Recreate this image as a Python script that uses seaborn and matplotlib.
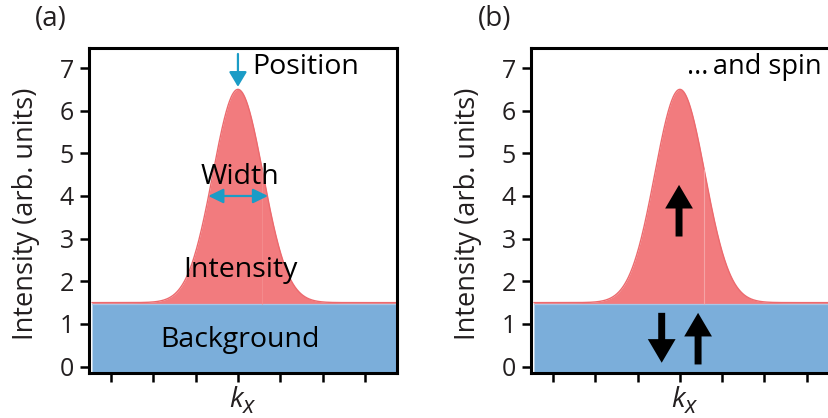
import numpy as np
import pandas as pd
import seaborn as sns
import matplotlib
matplotlib.use("Agg")
import matplotlib.pyplot as plt
import matplotlib.transforms as mtransforms
from matplotlib.patches import FancyArrowPatch

sns.set_theme(style="white")
plt.rcParams["font.family"] = ["Open Sans", "DejaVu Sans"]

# ---- data ----
panel_labels = ["(a)", "(b)"]
peak_position = 0.0
peak_amplitude = 5.0       # peak height above background
peak_sigma = 0.59
background_level = 1.5
band_top = 1.46
y_ticks = [0, 1, 2, 3, 4, 5, 6, 7]
x_ticks = [-3, -2, -1, 0, 1, 2, 3]
seam_x = 0.57
ylabel = "Intensity (arb. units)"

RED = "#F27B7E"
RED_EDGE = "#EC6A6E"
BLUE = "#7BAEDA"
BLUE_EDGE = "#A9C7E8"
CYAN = "#1B9CC6"
INK = "#231F20"

XLIM = (-3.52, 3.76)
YLIM = (-0.15, 7.47)

fig = plt.figure(figsize=(8.29, 4.18), dpi=100)
ax_a = fig.add_axes([0.1074, 0.1077, 0.3715, 0.7775])
ax_b = fig.add_axes([0.6405, 0.1077, 0.3715, 0.7775])


def gauss(x):
    return background_level + peak_amplitude * np.exp(-0.5 * ((x - peak_position) / peak_sigma) ** 2)


def draw_base(ax, x0, x1, seam_color):
    xs = np.linspace(x0, x1, 800)
    df = pd.DataFrame({"k": xs, "I": gauss(xs)})
    ax.fill_between(df["k"], YLIM[0], band_top, color=BLUE, lw=0, zorder=1)
    ax.fill_between(df["k"], band_top, df["I"], color=RED, lw=0, zorder=1)
    sns.lineplot(data=df, x="k", y="I", ax=ax, color=RED_EDGE, lw=1.0, zorder=2)
    ax.plot([x0, x1], [band_top + 0.01, band_top + 0.01], color=BLUE_EDGE, lw=0.9, zorder=2)
    ax.vlines(seam_x, band_top, gauss(seam_x), color=seam_color, lw=0.8, zorder=2)
    ax.set_xlim(*XLIM)
    ax.set_ylim(*YLIM)
    ax.set_xticks(x_ticks)
    ax.set_xticklabels([])
    ax.set_yticks(y_ticks)
    ax.set_yticklabels([str(v) for v in y_ticks])
    ax.tick_params(axis="both", direction="out", length=6.5, width=1.8, color="black",
                   labelsize=18, labelcolor=INK, pad=4.5, bottom=True, left=True)
    for s in ax.spines.values():
        s.set_linewidth(2.2)
        s.set_color("black")
        s.set_visible(True)
    ax.set_xlabel("")
    ax.set_ylabel(ylabel, fontsize=19.5, color=INK)
    ax.yaxis.set_label_coords(-0.16, 0.49)
    # k_x label: italic k with a large italic subscript x
    tr = mtransforms.blended_transform_factory(ax.transData, fig.transFigure)
    ax.text(peak_position - 0.2, 0.026, "k", fontsize=20, style="italic", color=INK,
            ha="left", va="baseline", transform=tr)
    ax.text(peak_position + 0.12, 0.013, "x", fontsize=17, style="italic", color=INK,
            ha="left", va="baseline", transform=tr)


def block_arrow(ax, x, y0, y1):
    p = FancyArrowPatch((x, y0), (x, y1),
                        arrowstyle="simple,head_length=17,head_width=20,tail_width=5",
                        mutation_scale=1, color="black", lw=0, shrinkA=0, shrinkB=0, zorder=5)
    ax.add_patch(p)


TEXT_SIZE = 20.5

# panel (a)
draw_base(ax_a, -3.45, 3.73, "#F38A8C")
ax_a.annotate("", xy=(0.0, 6.56), xytext=(0.0, 7.33),
              arrowprops=dict(arrowstyle="-|>,head_length=0.45,head_width=0.27", color=CYAN, lw=1.6,
                              shrinkA=0, shrinkB=0, mutation_scale=20))
ax_a.annotate("", xy=(-0.7, 4.0), xytext=(0.71, 4.0),
              arrowprops=dict(arrowstyle="<|-|>,head_length=0.45,head_width=0.22", color=CYAN, lw=1.6,
                              shrinkA=0, shrinkB=0, mutation_scale=20))
ax_a.text(0.33, 7.03, "Position", fontsize=TEXT_SIZE, color="black", ha="left", va="center")
ax_a.text(0.05, 4.45, "Width", fontsize=TEXT_SIZE, color="black", ha="center", va="center")
ax_a.text(0.05, 2.27, "Intensity", fontsize=TEXT_SIZE, color="black", ha="center", va="center")
ax_a.text(0.05, 0.63, "Background", fontsize=TEXT_SIZE, color="black", ha="center", va="center")

# panel (b)
draw_base(ax_b, -3.45, 3.9, "#F5A3A5")
ax_b.text(0.17, 7.03, "...\u2009and spin", fontsize=19.5, color="black", ha="left", va="center",
          family=["Open Sans", "DejaVu Sans"])
block_arrow(ax_b, -0.02, 3.05, 4.26)
block_arrow(ax_b, -0.43, 1.26, 0.09)
block_arrow(ax_b, 0.43, 0.05, 1.26)

fig.text(0.0615, 0.955, panel_labels[0], fontsize=20, color=INK, ha="center", va="center")
fig.text(0.5965, 0.955, panel_labels[1], fontsize=20, color=INK, ha="center", va="center")

fig.savefig("out.png", dpi=100)
